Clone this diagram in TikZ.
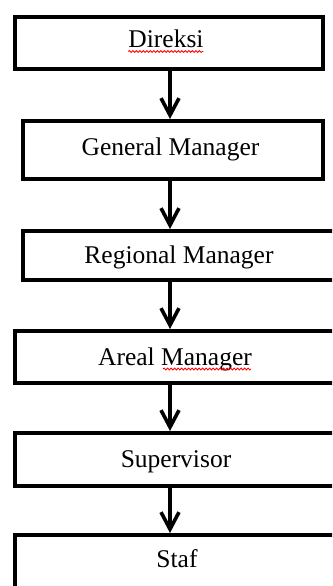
\documentclass[tikz,border=0pt]{standalone}
\usepackage{fontspec}
\setmainfont{Liberation Serif}
\usetikzlibrary{arrows.meta,decorations.pathmorphing}
\begin{document}
\begin{tikzpicture}[x=1pt,y=-1pt,
  box/.style={draw=black,line width=4pt,rectangle,inner sep=0pt,minimum width=#1},
  lbl/.style={anchor=base,inner sep=0pt,font=\fontsize{25.5}{29}\selectfont,text=black},
  conn/.style={draw=black,line width=3.6pt,-{Straight Barb[length=17pt,width=18pt,line width=3.6pt]}},
  squig/.style={draw=red,line width=0.8pt,decorate,decoration={snake,amplitude=1pt,segment length=3.5pt}}]
\useasboundingbox (0,0) rectangle (332,586);
\clip (0,0) rectangle (332,586);
\fill[white] (0,0) rectangle (332,586);
\coordinate (ax) at (170,0);
\node[box=308pt,minimum height=52pt] (D) at (169,43) {};
\node[box=300pt,minimum height=58pt] (GM) at (173,150) {};
\node[box=322pt,minimum height=49pt] (RM) at (184,255.5) {};
\node[box=330pt,minimum height=52pt] (AM) at (180,357) {};
\node[box=330pt,minimum height=53pt] (SV) at (180,459.5) {};
\node[box=330pt,minimum height=65pt] (ST) at (180,567.5) {};
\node[lbl] (tD) at (166,48) {Direksi};
\node[lbl] (tGM) at (170.5,155) {General Manager};
\node[lbl] (tRM) at (179,263) {Regional Manager};
\node[lbl] (tAM) at (175,365) {Areal Manager};
\node[lbl] (tSV) at (176,467) {Supervisor};
\node[lbl] (tST) at (177,567) {Staf};
\draw[squig] (tD.base west) ++(0,3.5) -- ++(75,0);
\coordinate (mgr) at (163,369);
\draw[squig] (mgr) -- ++(88,0);
\draw[conn] (D.south -| ax) -- (GM.north -| ax);
\draw[conn] (GM.south -| ax) -- (RM.north -| ax);
\draw[conn] (RM.south -| ax) -- (AM.north -| ax);
\draw[conn] (AM.south -| ax) -- (SV.north -| ax);
\draw[conn] (SV.south -| ax) -- (ST.north -| ax);
\end{tikzpicture}
\end{document}
